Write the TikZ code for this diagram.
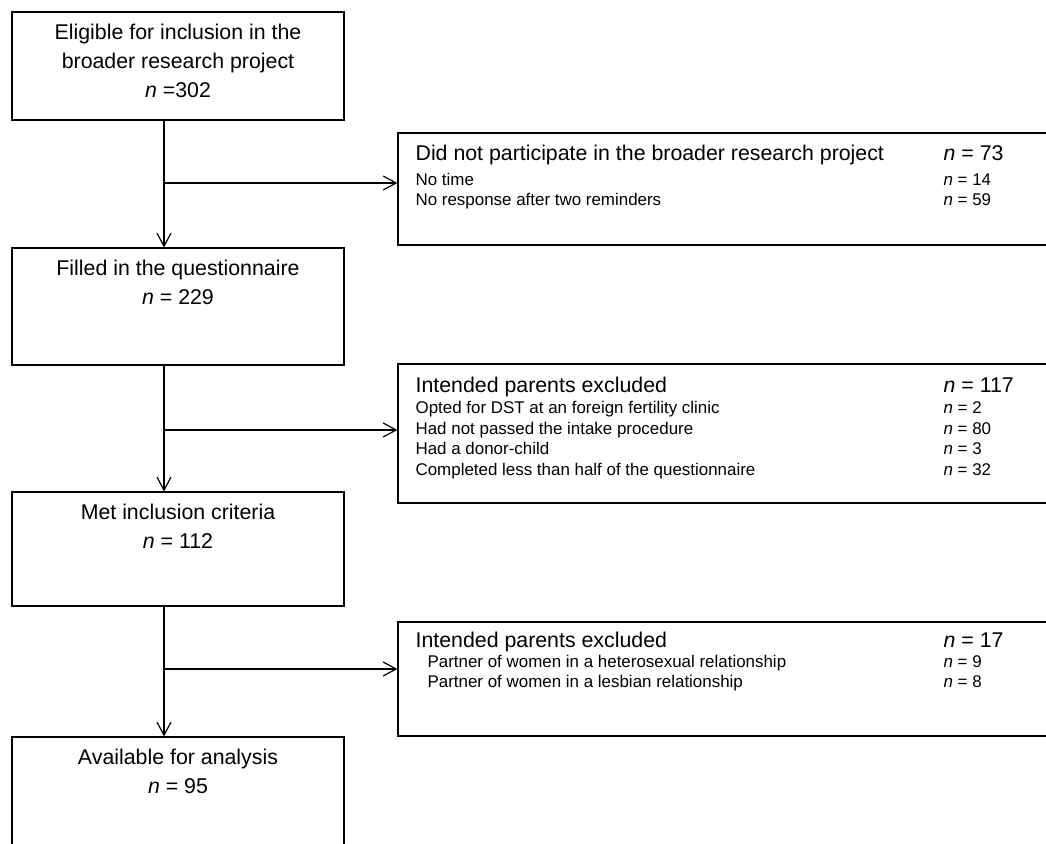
\documentclass[tikz,border=0pt]{standalone}
\usepackage{fontspec}
\setmainfont{Liberation Sans}
\usetikzlibrary{arrows.meta,fit}

\begin{document}
\begin{tikzpicture}[x=0.75pt,y=-0.75pt,line width=0.9pt,
  box/.style={draw,fit={#1}},
  big/.style={font=\fontsize{16}{19}\selectfont,anchor=base},
  bigl/.style={big,anchor=base west},
  small/.style={font=\fontsize{12.7}{15}\selectfont,anchor=base west},
  arr/.style={-{Straight Barb[length=9.75pt,width=10.5pt]}}]
\tikzstyle{every node}+=[inner sep=0pt]
\useasboundingbox (0,0) rectangle (1046,843);
\node[box={(12,12) (344,120)}] (elig) {};
\node[big] (elig1) at (178,39) {Eligible for inclusion in the};
\node[big] (elig2) at (178,68) {broader research project};
\node[big] (elig3) at (178,97) {\textit{n} =302};
\node[box={(398,133) (1052,245)}] (nopart) {};
\node[bigl] (nopart1) at (415,160) {Did not participate in the broader research project};
\node[bigl] (nopartn) at (943,160) {\textit{n} = 73};
\node[small] (notime) at (415,185) {No time};
\node[small] (notimen) at (943,185) {\textit{n} = 14};
\node[small] (noresp) at (415,205) {No response after two reminders};
\node[small] (norespn) at (943,205) {\textit{n} = 59};
\node[box={(12,248) (344,365)}] (filled) {};
\node[big] (filled1) at (178,275) {Filled in the questionnaire};
\node[big] (filled2) at (178,304) {\textit{n} = 229};
\node[box={(398,364) (1052,503)}] (exclA) {};
\node[bigl] (exclA1) at (415,392) {Intended parents excluded};
\node[bigl] (exclAn) at (943,392) {\textit{n} = 117};
\node[small] (dst) at (415,413) {Opted for DST at an foreign fertility clinic};
\node[small] (dstn) at (943,413) {\textit{n} = 2};
\node[small] (intake) at (415,434) {Had not passed the intake procedure};
\node[small] (intaken) at (943,434) {\textit{n} = 80};
\node[small] (donor) at (415,454) {Had a donor-child};
\node[small] (donorn) at (943,454) {\textit{n} = 3};
\node[small] (half) at (415,475) {Completed less than half of the questionnaire};
\node[small] (halfn) at (943,475) {\textit{n} = 32};
\node[box={(12,492) (344,606)}] (met) {};
\node[big] (met1) at (178,519) {Met inclusion criteria};
\node[big] (met2) at (178,548) {\textit{n} = 112};
\node[box={(398,622) (1052,736)}] (exclB) {};
\node[bigl] (exclB1) at (415,647) {Intended parents excluded};
\node[bigl] (exclBn) at (943,647) {\textit{n} = 17};
\node[small] (hetero) at (427,667) {Partner of women in a heterosexual relationship};
\node[small] (heteron) at (943,667) {\textit{n} = 9};
\node[small] (lesb) at (427,687) {Partner of women in a lesbian relationship};
\node[small] (lesbn) at (943,687) {\textit{n} = 8};
\node[box={(12,737) (344,852)}] (avail) {};
\node[big] (avail1) at (178,764) {Available for analysis};
\node[big] (avail2) at (178,793) {\textit{n} = 95};
\coordinate (s1) at (164,183);
\coordinate (s2) at (164,430);
\coordinate (s3) at (164,669);
\draw[arr] (elig.south -| s1) -- (filled.north -| s1);
\draw[arr] (s1) -- (s1 -| nopart.west);
\draw[arr] (filled.south -| s2) -- (met.north -| s2);
\draw[arr] (s2) -- (s2 -| exclA.west);
\draw[arr] (met.south -| s3) -- (avail.north -| s3);
\draw[arr] (s3) -- (s3 -| exclB.west);
\end{tikzpicture}
\end{document}
